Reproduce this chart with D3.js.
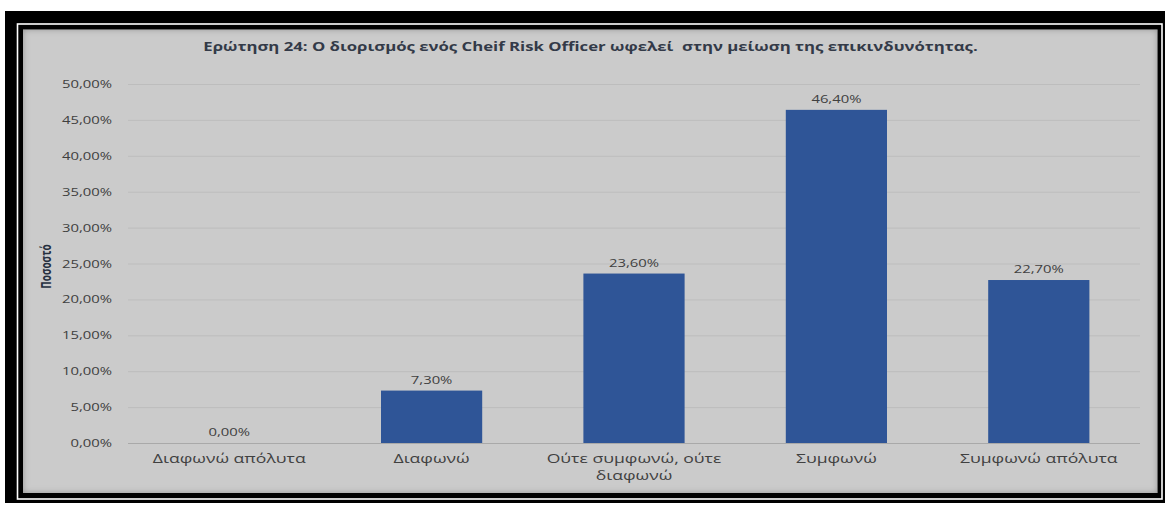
<!DOCTYPE html>
<html>
<head>
<meta charset="utf-8">
<script src="https://cdn.jsdelivr.net/npm/d3@7"></script>
<style>
  html, body { margin: 0; padding: 0; background: #ffffff; }
  svg { display: block; }
  text { font-family: "Open Sans", "DejaVu Sans", sans-serif; white-space: pre; }
</style>
</head>
<body>
<svg id="chart" width="1165" height="505"></svg>
<script>
// Survey responses (percent of respondents)
const categories = [
  "Διαφωνώ απόλυτα",
  "Διαφωνώ",
  "Ούτε συμφωνώ, ούτε διαφωνώ",
  "Συμφωνώ",
  "Συμφωνώ απόλυτα"
];
const values = [0.0, 7.3, 23.6, 46.4, 22.7];
const yTicks = [0, 5, 10, 15, 20, 25, 30, 35, 40, 45, 50];
const titleText = "Ερώτηση 24: Ο διορισμός ενός Cheif Risk Officer ωφελεί  στην μείωση της επικινδυνότητας.";
const yAxisTitle = "Ποσοστό";

const fmt = v => v.toFixed(2).replace(".", ",") + "%";

const svg = d3.select("#chart");
const SX = 1.35;           // horizontal text stretch
const textColor = "#404040";
const barColor = "#2f5597";

// ---- frame ----
svg.append("rect").attr("x", 5).attr("y", 11).attr("width", 1160).attr("height", 492).attr("fill", "#000");
svg.append("rect").attr("x", 17.5).attr("y", 24).attr("width", 1144.5).attr("height", 475)
  .attr("fill", "none").attr("stroke", "#ffffff").attr("stroke-width", 1.6);

// panel with inner shadow
const defs = svg.append("defs");
const f = defs.append("filter").attr("id", "inner").attr("x", "-5%").attr("y", "-5%").attr("width", "110%").attr("height", "110%");
f.append("feFlood").attr("flood-color", "#000").attr("flood-opacity", 0.55).attr("result", "flood");
f.append("feComposite").attr("in", "flood").attr("in2", "SourceAlpha").attr("operator", "out").attr("result", "outside");
f.append("feGaussianBlur").attr("in", "outside").attr("stdDeviation", 3).attr("result", "blur");
f.append("feComposite").attr("in", "blur").attr("in2", "SourceAlpha").attr("operator", "in").attr("result", "shadow");
const fm = f.append("feMerge");
fm.append("feMergeNode").attr("in", "SourceGraphic");
fm.append("feMergeNode").attr("in", "shadow");

svg.append("rect").attr("x", 23).attr("y", 29.5).attr("width", 1134.5).attr("height", 463.5)
  .attr("fill", "#cbcbcb").attr("filter", "url(#inner)");

// ---- plot ----
const margin = { left: 128, right: 1140, top: 84, bottom: 443 };
const x = d3.scaleBand().domain(categories).range([margin.left, margin.right]).paddingInner(0.5).paddingOuter(0.25);
const y = d3.scaleLinear().domain([0, 50]).range([margin.bottom, margin.top]);

// gridlines
svg.append("g").selectAll("line").data(yTicks).join("line")
  .attr("x1", margin.left).attr("x2", margin.right)
  .attr("y1", d => y(d) + 0.5).attr("y2", d => y(d) + 0.5)
  .attr("stroke", d => d === 0 ? "#a9a9a9" : "#bdbdbd").attr("stroke-width", 1);

// y tick labels
svg.append("g").selectAll("text").data(yTicks).join("text")
  .attr("transform", d => `translate(112,${y(d) + 4}) scale(${SX},1)`)
  .attr("text-anchor", "end").attr("font-size", 11).attr("fill", textColor)
  .text(d => fmt(d));

// bars
svg.append("g").selectAll("rect").data(values).join("rect")
  .attr("x", (d, i) => x(categories[i]))
  .attr("width", x.bandwidth())
  .attr("y", d => y(d))
  .attr("height", d => y(0) - y(d))
  .attr("fill", barColor);

// value labels
svg.append("g").selectAll("text").data(values).join("text")
  .attr("transform", (d, i) => `translate(${x(categories[i]) + x.bandwidth() / 2},${y(d) - 7}) scale(${SX},1)`)
  .attr("text-anchor", "middle").attr("font-size", 11).attr("fill", textColor)
  .text(d => fmt(d));

// category labels (long one wrapped before its last word)
const catG = svg.append("g");
categories.forEach(c => {
  const lines = c.includes(",") ? [c.slice(0, c.lastIndexOf(" ")), c.slice(c.lastIndexOf(" ") + 1)] : [c];
  lines.forEach((l, k) => {
    catG.append("text")
      .attr("transform", `translate(${x(c) + x.bandwidth() / 2},${462.5 + k * 17}) scale(1.42,1)`)
      .attr("text-anchor", "middle").attr("font-size", 12.4).attr("fill", textColor)
      .text(l);
  });
});

// title
svg.append("text")
  .attr("transform", `translate(590.5,51) scale(${SX},1)`)
  .attr("text-anchor", "middle").attr("font-size", 12.4).attr("font-weight", "bold").attr("fill", "#333a48")
  .text(titleText);

// y axis title
svg.append("text")
  .attr("transform", `translate(50.5,266.5) scale(1.45,1) rotate(-90)`)
  .attr("text-anchor", "middle").attr("font-size", 10).attr("font-weight", "bold").attr("fill", "#26303f")
  .text(yAxisTitle);
</script>
</body>
</html>
